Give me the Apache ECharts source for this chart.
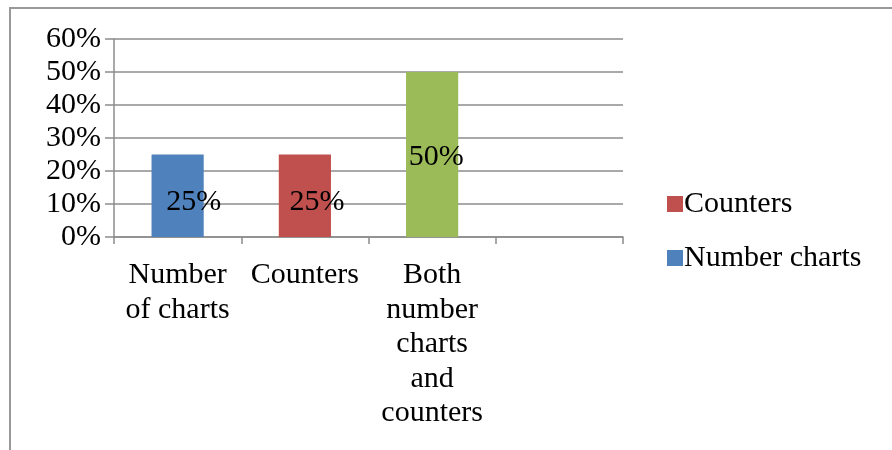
<!DOCTYPE html>
<html>
<head>
<meta charset="utf-8">
<script src="https://cdn.jsdelivr.net/npm/echarts@6/dist/echarts.min.js"></script>
<style>
  html, body { margin: 0; padding: 0; background: #fff; }
  #chart { width: 892px; height: 450px; }
</style>
</head>
<body>
<div id="chart"></div>
<script>
/* data */
const categories = ['Number\nof charts', 'Counters', 'Both\nnumber\ncharts\nand\ncounters', ''];
const numberCharts = [25, '-', '-', '-'];
const counters = ['-', 25, '-', '-'];
const both = ['-', '-', 50, '-'];
const yTicks = [0, 10, 20, 30, 40, 50, 60];

const font = '"Liberation Serif", "Times New Roman", serif';
const gray = '#8c8c8c';
const fs = 30;

const chart = echarts.init(document.getElementById('chart'));

function barLabel(offset) {
    return {
        show: true,
        position: 'inside',
        offset: offset,
        formatter: p => p.value + '%',
        color: '#000',
        fontFamily: font,
        fontSize: fs
    };
}

const option = {
    animation: false,
    graphic: [{
        type: 'rect',
        shape: { x: 10, y: 8, width: 900, height: 460 },
        style: { fill: 'none', stroke: '#999', lineWidth: 2 },
        silent: true
    }],
    grid: { left: 114, right: 269, top: 39, bottom: 213 },
    legend: {
        data: ['Counters', 'Number charts'],
        orient: 'vertical',
        left: 662,
        top: 184,
        itemWidth: 16,
        itemHeight: 16,
        itemGap: 24,
        icon: 'rect',
        textStyle: { fontFamily: font, fontSize: fs, color: '#000', padding: [0, 0, 0, -4] }
    },
    xAxis: {
        type: 'category',
        data: categories,
        axisLine: { lineStyle: { color: gray, width: 1.5 } },
        axisTick: { show: true, length: 7, alignWithLabel: false, lineStyle: { color: gray, width: 1.5 } },
        axisLabel: {
            interval: 0,
            margin: 21,
            fontFamily: font,
            fontSize: fs,
            lineHeight: 34.5,
            color: '#000',
            align: 'center'
        }
    },
    yAxis: {
        type: 'value',
        min: yTicks[0],
        max: yTicks[yTicks.length - 1],
        interval: 10,
        axisLine: { show: true, lineStyle: { color: gray, width: 1.5 } },
        axisTick: { show: true, length: 9, lineStyle: { color: gray, width: 1.5 } },
        splitLine: { lineStyle: { color: gray, width: 1.5 } },
        axisLabel: {
            formatter: '{value}%',
            margin: 13,
            fontFamily: font,
            fontSize: fs,
            color: '#000'
        }
    },
    series: [
        {
            name: 'Number charts', type: 'bar', stack: 'all', barWidth: '41%',
            data: numberCharts,
            itemStyle: { color: '#4F81BD' },
            label: barLabel([16, 6])
        },
        {
            name: 'Counters', type: 'bar', stack: 'all', barWidth: '41%',
            data: counters,
            itemStyle: { color: '#C0504D' },
            label: barLabel([12, 6])
        },
        {
            name: 'Both', type: 'bar', stack: 'all', barWidth: '41%',
            data: both,
            itemStyle: { color: '#9BBB59' },
            label: barLabel([4, 3])
        }
    ]
};

chart.setOption(option);
</script>
</body>
</html>
